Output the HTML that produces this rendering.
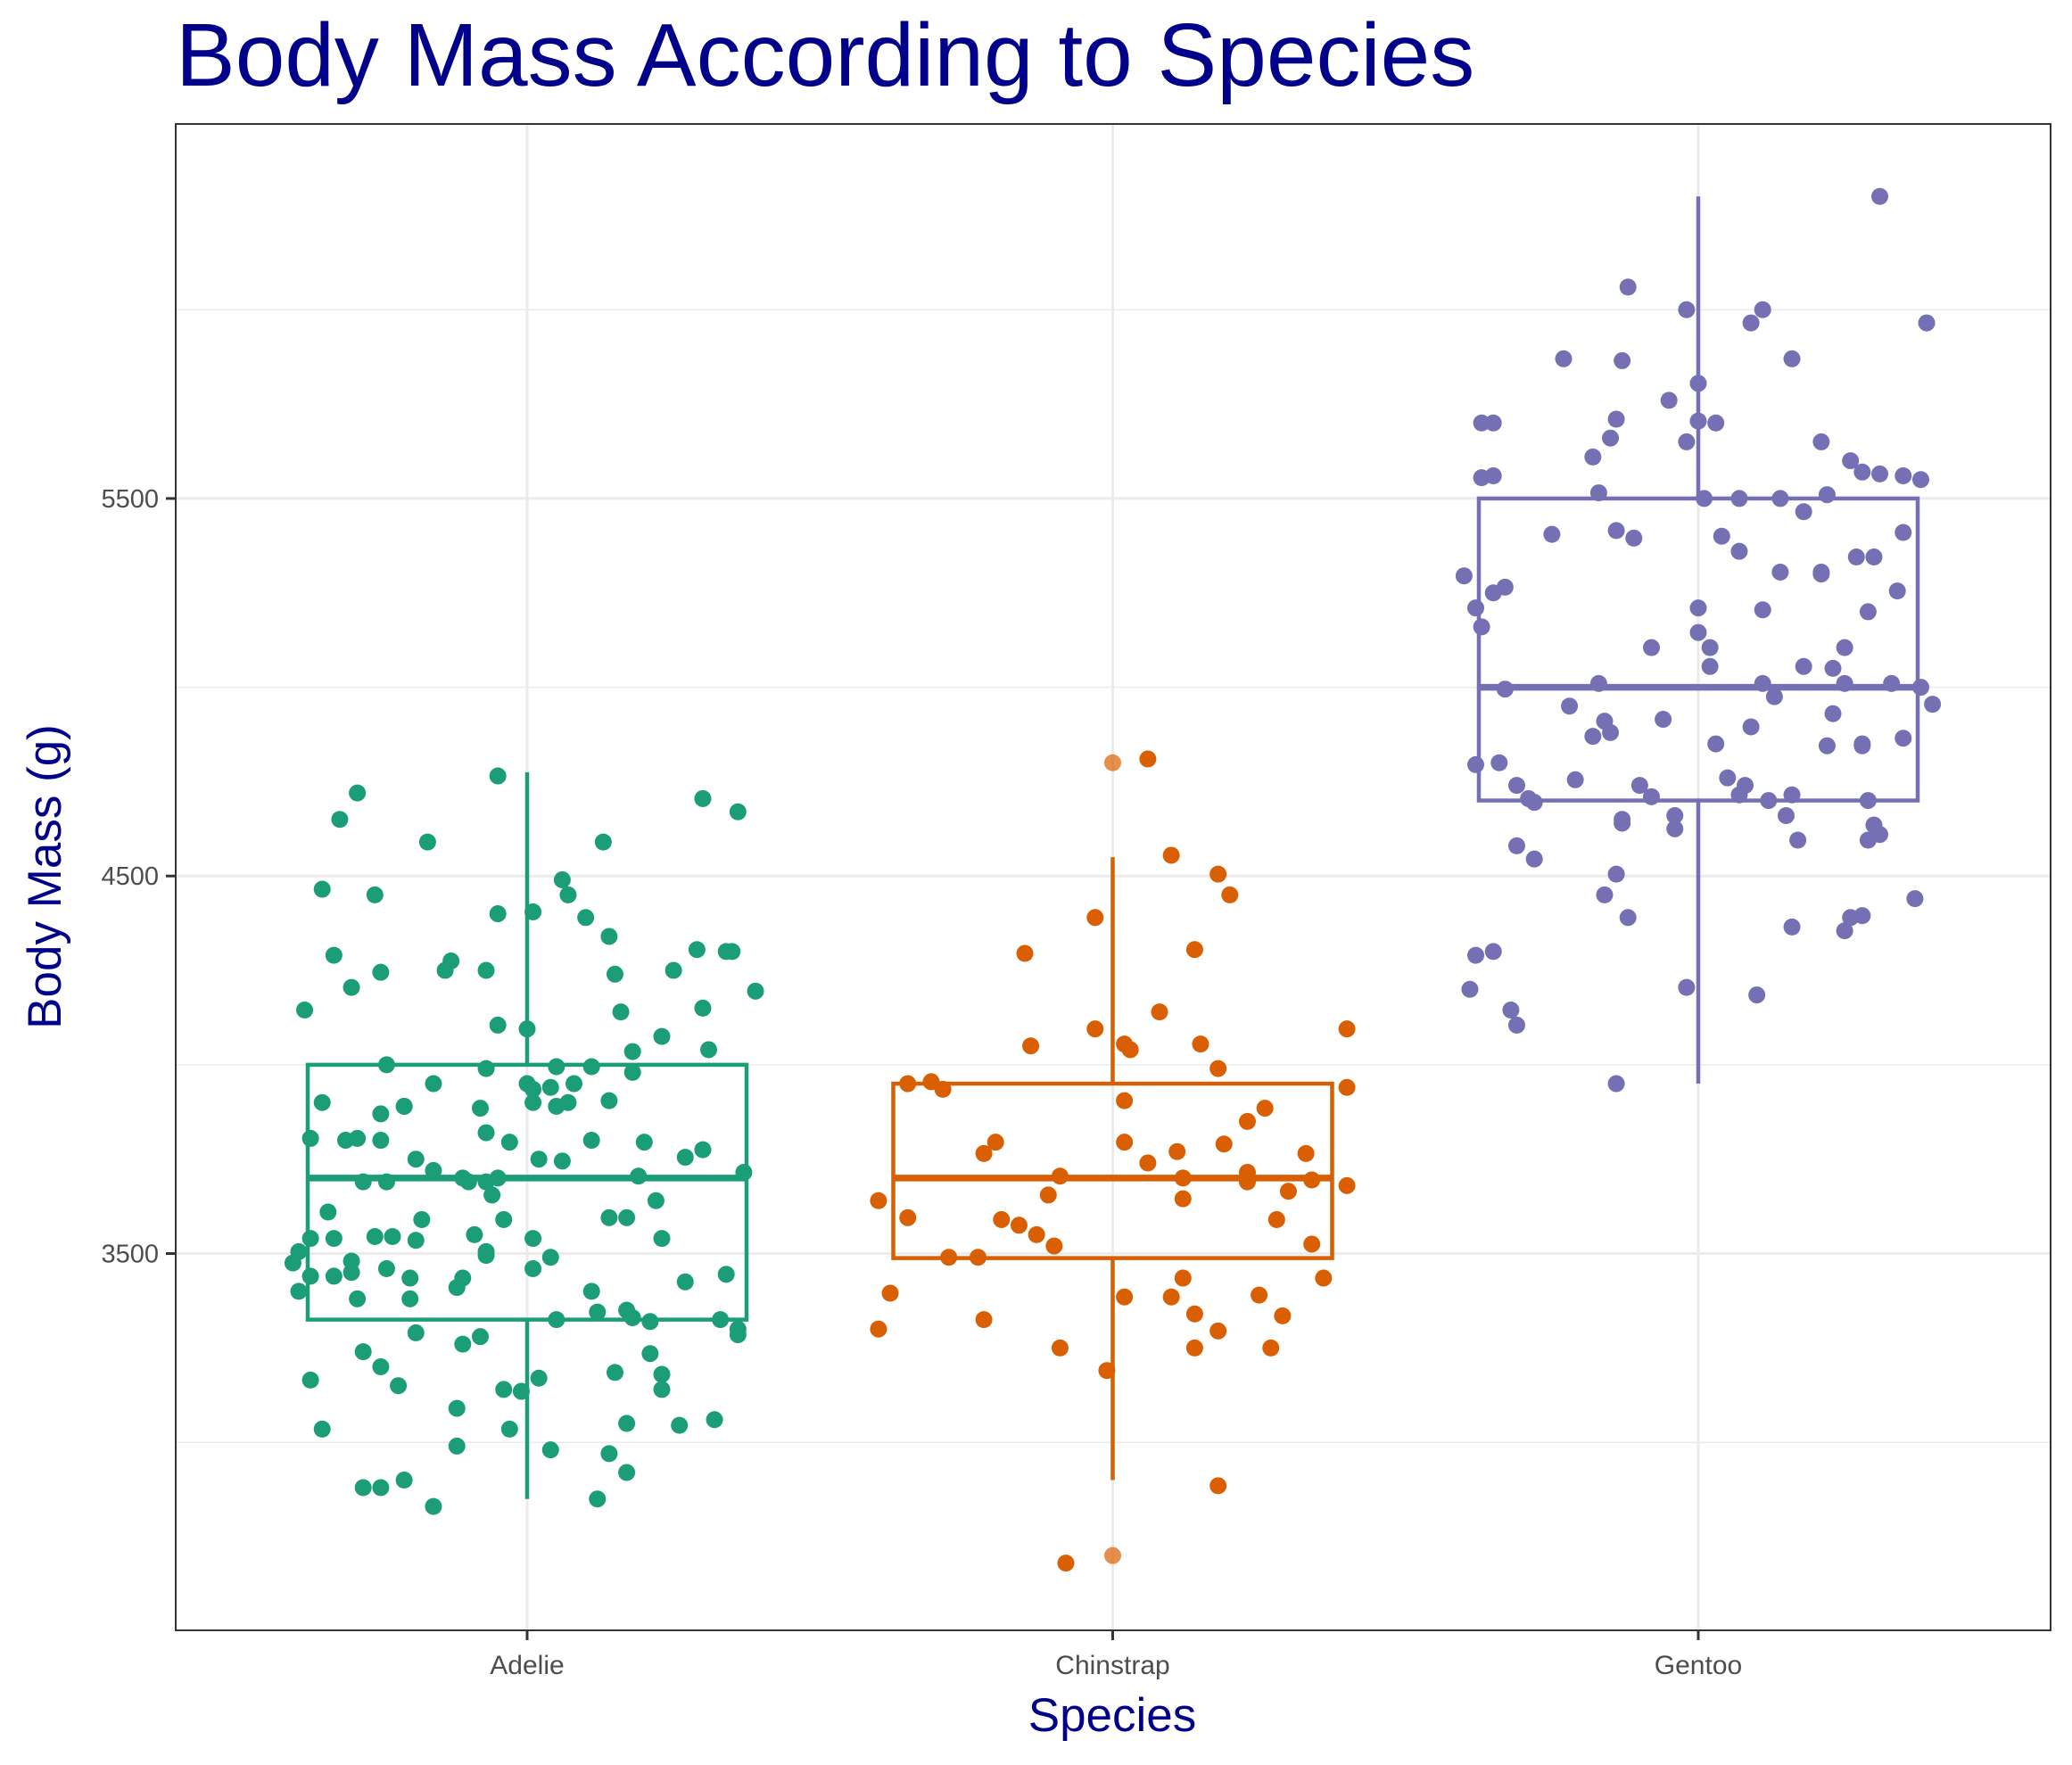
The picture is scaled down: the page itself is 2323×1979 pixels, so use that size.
<!DOCTYPE html>
<html><head><meta charset="utf-8"><style>
html,body{margin:0;padding:0;background:#fff;}
svg{display:block;font-family:"Liberation Sans",Arial,sans-serif;}
</style></head><body>
<svg id="chart" width="2323" height="1979" viewBox="0 0 2323 1979" xmlns="http://www.w3.org/2000/svg">
<rect x="0" y="0" width="2323" height="1979" fill="#fff"/>
<text x="197" y="96" font-size="100" fill="#00008B">Body Mass According to Species</text>
<g id="grid"></g>
<g id="boxes"></g>
<g id="points"></g>
<rect x="197" y="139" width="2102" height="1689" fill="none" stroke="#333" stroke-width="2"/>
<g id="axes"></g>
<text x="1247" y="1941" font-size="53" fill="#00008B" text-anchor="middle">Species</text>
<text transform="translate(68,983) rotate(-90)" font-size="53" fill="#00008B" text-anchor="middle">Body Mass (g)</text>
</svg>
<script>
const categories = ["Adelie","Chinstrap","Gentoo"];
const colors = ["#1B9E77","#D95F02","#7570B3"];
const majorTicks = [3500,4500,5500];
const minorTicks = [3000,4000,5000,6000];
// box stats: [min, q1, median, q3, max]
const adelieBox = [2850,3325,3700,4000,4775];
const chinstrapBox = [2900,3488,3700,3950,4550];
const gentooBox = [3950,4700,5000,5500,6300];
const chinstrapOutliers = [4800,2700];
const adelieMass = [4465,4720,4650,4765,4590,4705,4670,4450,4590,4490,4450,4400,4405,4390,4340,4290,4305,4300,4300,4275,4250,4245,4250,4240,4250,4205,4195,4145,4140,4150,4105,4095,4075,4035,4040,4000,3990,3995,3995,3980,3950,3950,3935,3940,3950,3900,3890,3890,3870,3885,3900,3890,3900,3905,3820,3800,3805,3805,3800,3795,3800,3795,3775,3750,3745,3750,3720,3755,3700,3690,3700,3690,3705,3715,3690,3690,3655,3640,3610,3590,3595,3595,3550,3540,3540,3545,3545,3535,3540,3540,3590,3505,3475,3480,3495,3505,3490,3460,3460,3440,3440,3450,3435,3435,3410,3400,3380,3380,3400,3445,3425,3345,3350,3325,3330,3320,3325,3285,3300,3290,3280,3260,3240,3235,3200,3165,3150,3185,3180,3170,3140,3135,3140,3090,3050,3045,3060,3035,3035,2990,2980,2970,2920,2880,2880,2900,2830,2850];
const adelieJitter = [-0.35,-0.29,-0.32,-0.05,-0.17,0.30,0.36,-0.26,0.13,0.06,0.07,-0.05,0.01,0.10,0.14,-0.33,0.29,0.34,0.35,-0.13,-0.14,-0.25,-0.07,0.15,0.25,-0.30,0.39,-0.38,0.16,0.30,-0.05,0.00,0.23,0.18,0.31,-0.24,-0.07,0.05,0.11,0.18,-0.16,0.00,0.01,0.04,0.08,-0.35,-0.21,-0.21,-0.25,-0.08,0.01,0.05,0.07,0.14,-0.07,-0.31,-0.37,-0.29,-0.25,-0.03,0.11,0.20,0.30,0.02,0.06,-0.19,-0.16,0.27,-0.11,-0.10,-0.05,-0.07,0.19,0.37,-0.28,-0.24,-0.06,0.22,-0.34,-0.18,0.14,0.17,-0.09,-0.37,-0.33,-0.26,-0.23,-0.19,0.01,0.23,-0.04,-0.39,-0.40,-0.30,-0.07,-0.07,0.04,-0.24,0.01,-0.37,-0.33,-0.30,-0.20,-0.11,-0.12,-0.39,-0.29,-0.20,0.11,0.34,0.27,0.12,0.17,0.05,0.18,0.21,0.33,0.36,0.36,-0.19,-0.08,-0.11,-0.28,0.21,-0.25,-0.37,-0.22,0.15,0.23,0.02,-0.04,-0.01,0.23,-0.12,0.17,0.26,0.32,-0.35,-0.03,-0.12,0.04,0.14,0.17,-0.28,-0.25,-0.21,-0.16,0.12];
const chinstrapMass = [4810,4555,4505,4450,4390,4305,4295,4140,4095,4095,4050,4055,4040,4055,3990,3950,3955,3935,3940,3905,3885,3850,3765,3795,3795,3770,3790,3765,3740,3715,3705,3700,3690,3695,3680,3665,3655,3645,3640,3595,3590,3575,3590,3550,3520,3525,3490,3490,3435,3435,3395,3385,3385,3390,3340,3325,3335,3300,3295,3250,3250,3250,3190,2885,2680];
const chinstrapJitter = [0.06,0.10,0.18,0.20,-0.03,0.14,-0.15,0.08,-0.03,0.40,-0.14,0.02,0.03,0.15,0.18,-0.35,-0.31,-0.29,0.40,0.02,0.26,0.23,-0.22,-0.20,0.02,0.11,0.19,0.33,0.06,0.23,-0.09,0.12,0.23,0.34,0.40,0.30,-0.11,0.12,-0.40,-0.35,-0.19,-0.16,0.28,-0.13,-0.10,0.34,-0.28,-0.23,0.36,0.12,-0.38,0.02,0.10,0.25,0.14,-0.22,0.29,-0.40,0.18,-0.09,0.14,0.27,-0.01,0.18,-0.08];
const gentooMass = [6300,6060,6000,6000,5965,5965,5870,5865,5870,5805,5760,5700,5700,5710,5705,5700,5660,5650,5650,5555,5560,5610,5600,5570,5565,5560,5550,5515,5500,5500,5500,5510,5465,5405,5415,5395,5400,5360,5410,5345,5345,5295,5265,5250,5305,5305,5300,5255,5210,5210,5205,5200,5160,5145,5105,5105,5055,5055,5050,5105,4995,5010,5010,4975,5010,5010,5000,4955,4950,4910,4915,4930,4870,4880,4895,4850,4845,4845,4850,4865,4795,4800,4740,4705,4695,4755,4740,4710,4760,4740,4715,4700,4715,4700,4650,4640,4660,4625,4660,4635,4610,4595,4595,4580,4545,4505,4450,4390,4440,4365,4355,4390,4395,4290,4300,4200,4145,4105,4205,4185,3950];
const gentooJitter = [0.31,-0.12,-0.02,0.11,0.09,0.39,-0.23,-0.13,0.16,0.00,-0.05,-0.37,-0.35,-0.14,0.00,0.03,-0.15,-0.02,0.21,-0.37,-0.35,-0.18,0.26,0.28,0.31,0.35,0.38,-0.17,0.01,0.07,0.14,0.22,0.18,-0.25,-0.14,-0.11,0.04,0.07,0.35,0.27,0.30,-0.40,-0.33,-0.35,0.14,0.21,0.21,0.34,-0.38,0.00,0.11,0.29,-0.37,0.00,0.02,-0.08,0.02,0.18,0.23,0.25,-0.33,-0.17,0.11,0.13,0.25,0.33,0.38,0.40,-0.22,-0.16,-0.06,0.23,-0.18,-0.15,0.09,0.03,0.22,0.28,0.28,0.35,-0.38,-0.34,-0.31,-0.29,-0.28,-0.21,-0.10,-0.08,0.05,0.08,0.07,0.12,0.16,0.29,-0.13,-0.13,-0.04,-0.04,0.15,0.30,0.31,0.29,0.17,-0.31,-0.28,-0.14,-0.16,-0.12,0.37,0.16,0.25,0.26,0.28,-0.38,-0.35,-0.39,-0.32,-0.31,-0.02,0.10,-0.14];

const NS = "http://www.w3.org/2000/svg";
const P = {l:197, r:2299, t:139, b:1828};
const yMin = 2502, yMax = 6492;
function yScale(v){ return P.b - (v - yMin)/(yMax - yMin)*(P.b - P.t); }
const catSpacing = 656.5;
function xScale(i){ return 591 + i*catSpacing; }
function mk(tag, attrs, parent){
  const e = document.createElementNS(NS, tag);
  for (const k in attrs) e.setAttribute(k, attrs[k]);
  parent.appendChild(e);
  return e;
}
const grid = document.getElementById('grid');
minorTicks.forEach(v=>{
  const l = mk('line',{x1:P.l,x2:P.r,y1:yScale(v),y2:yScale(v),stroke:'#EBEBEB','stroke-width':1.5},grid);
  
  
});
majorTicks.forEach(v=>{
  const l = mk('line',{x1:P.l,x2:P.r,y1:yScale(v),y2:yScale(v),stroke:'#EBEBEB','stroke-width':3},grid);
  
  
});
categories.forEach((c,i)=>{
  const l = mk('line',{x1:xScale(i),x2:xScale(i),y1:P.t,y2:P.b,stroke:'#EBEBEB','stroke-width':3},grid);
  
  
});
const boxesG = document.getElementById('boxes');
const boxStats = [adelieBox, chinstrapBox, gentooBox];
const halfW = 246;
boxStats.forEach((s,i)=>{
  const cx = xScale(i), col = colors[i];
  const g = mk('g',{},boxesG);
  
  
  mk('line',{x1:cx,x2:cx,y1:yScale(s[0]),y2:yScale(s[1]),stroke:col,'stroke-width':4.5},g);
  mk('line',{x1:cx,x2:cx,y1:yScale(s[3]),y2:yScale(s[4]),stroke:col,'stroke-width':4.5},g);
  mk('rect',{x:cx-halfW,y:yScale(s[3]),width:2*halfW,height:yScale(s[1])-yScale(s[3]),fill:'none',stroke:col,'stroke-width':4.5},g);
  mk('line',{x1:cx-halfW,x2:cx+halfW,y1:yScale(s[2]),y2:yScale(s[2]),stroke:col,'stroke-width':7.5},g);
});
const ptsG = document.getElementById('points');
const massSets = [adelieMass, chinstrapMass, gentooMass];
const jitSets = [adelieJitter, chinstrapJitter, gentooJitter];
chinstrapOutliers.forEach(v=>{
  const c = mk('circle',{cx:xScale(1),cy:yScale(v),r:9.5,fill:colors[1],'fill-opacity':0.7},ptsG);
  
  
});
massSets.forEach((arr,i)=>{
  arr.forEach((v,k)=>{
    const j = jitSets[i][k] || 0;
    const c = mk('circle',{cx:xScale(i)+j*catSpacing,cy:yScale(v),r:9.5,fill:colors[i]},ptsG);
    
    
  });
});
const axes = document.getElementById('axes');
majorTicks.forEach(v=>{
  const y = yScale(v);
  const t = mk('line',{x1:186,x2:197,y1:y,y2:y,stroke:'#333','stroke-width':3},axes);
  
  
  const tx = mk('text',{x:178,y:y+10,'font-size':29,fill:'#4D4D4D','text-anchor':'end'},axes);
  tx.textContent = v;
  
  
});
categories.forEach((c,i)=>{
  const x = xScale(i);
  const t = mk('line',{x1:x,x2:x,y1:P.b,y2:P.b+11,stroke:'#333','stroke-width':3},axes);
  
  
  const tx = mk('text',{x:x,y:1877,'font-size':30,fill:'#4D4D4D','text-anchor':'middle'},axes);
  tx.textContent = c;
  
  
});
</script>
</body></html>
